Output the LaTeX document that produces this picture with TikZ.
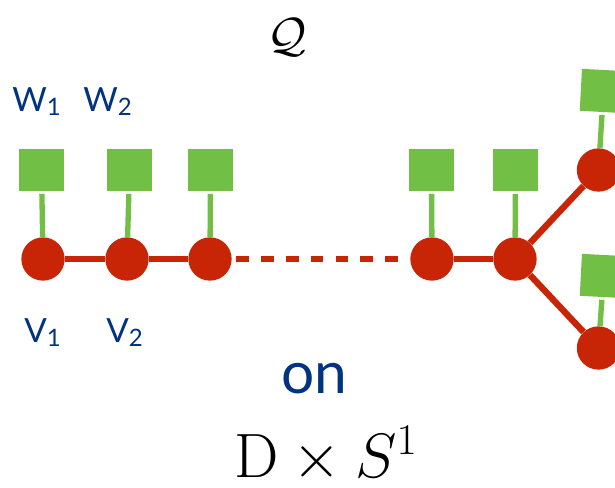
\documentclass[tikz,border=0pt]{standalone}
\usepackage{fix-cm}
\usepackage[no-math]{fontspec}
\setmainfont{Lato}
\definecolor{quivred}{RGB}{200,37,6}
\definecolor{quivgreen}{RGB}{113,191,68}
\definecolor{quivblue}{RGB}{0,51,128}
\newcommand{\quivlab}[2]{#1\raisebox{-0.12em}{\fontsize{18}{18}\selectfont #2}}
\tikzset{
  gauge/.style={circle, fill=quivred, minimum size=32.5pt, inner sep=0pt},
  flav/.style={rectangle, fill=quivgreen, minimum width=34pt, minimum height=31.5pt, inner sep=0pt},
  link/.style={draw=quivred, line width=4.8pt},
  leg/.style={draw=quivgreen, line width=4pt, shorten <=2pt},
  lab/.style={text=quivblue, font=\fontsize{25}{25}\selectfont, anchor=base west, inner sep=0pt}
}
\begin{document}
\begin{tikzpicture}[x=0.75pt, y=-0.75pt]
\useasboundingbox (0,0) rectangle (615,487);
\clip (0,0) rectangle (615,487);
% gauge nodes
\node[gauge] (v1) at (43,259) {};
\node[gauge] (v2) at (127,259) {};
\node[gauge] (v3) at (210,259) {};
\node[gauge] (v4) at (432,259) {};
\node[gauge] (v5) at (515,259) {};
\node[gauge] (v6) at (598.5,170) {};
\node[gauge] (v7) at (598.5,348) {};
% flavour nodes
\node[flav] (w1) at (41.5,170) {};
\node[flav] (w2) at (129.5,170) {};
\node[flav] (w3) at (210.5,170) {};
\node[flav] (w4) at (431.5,170) {};
\node[flav] (w5) at (515.5,170) {};
\node[flav, rotate=-3] (w6) at (603.5,91) {};
\node[flav, rotate=-3] (w7) at (603.5,276) {};
\draw[link] (v1) -- (v2);
\draw[link] (v2) -- (v3);
\draw[link, dash pattern=on 9.4pt off 9.2pt, shorten <=3.4pt] (v3) -- (v4);
\draw[link] (v4) -- (v5);
\draw[link] (v5) -- (v6);
\draw[link] (v5) -- (v7);
\foreach \i in {1,...,7}
  \draw[leg] (w\i) -- (v\i);
% labels
\node[lab] (lw1) at (12,111.5) {\quivlab{W}{1}};
\node[lab] (lw2) at (83,111.5) {\quivlab{W}{2}};
\node[lab] (lv1) at (24,342) {\quivlab{V}{1}};
\node[lab] (lv2) at (106,342) {\quivlab{V}{2}};
\node[text=quivblue, font=\fontsize{44}{44}\selectfont, anchor=base, inner sep=0pt] (on) at (314,393) {on};
\node[font=\fontsize{47}{47}\selectfont, anchor=base, inner sep=0pt] (space) at (326,477) {$\mathrm{D}\times S^1$};
\node[font=\fontsize{36}{36}\selectfont, inner sep=0pt] (quiver) at (287,37) {$\mathcal{Q}$};
\end{tikzpicture}
\end{document}
